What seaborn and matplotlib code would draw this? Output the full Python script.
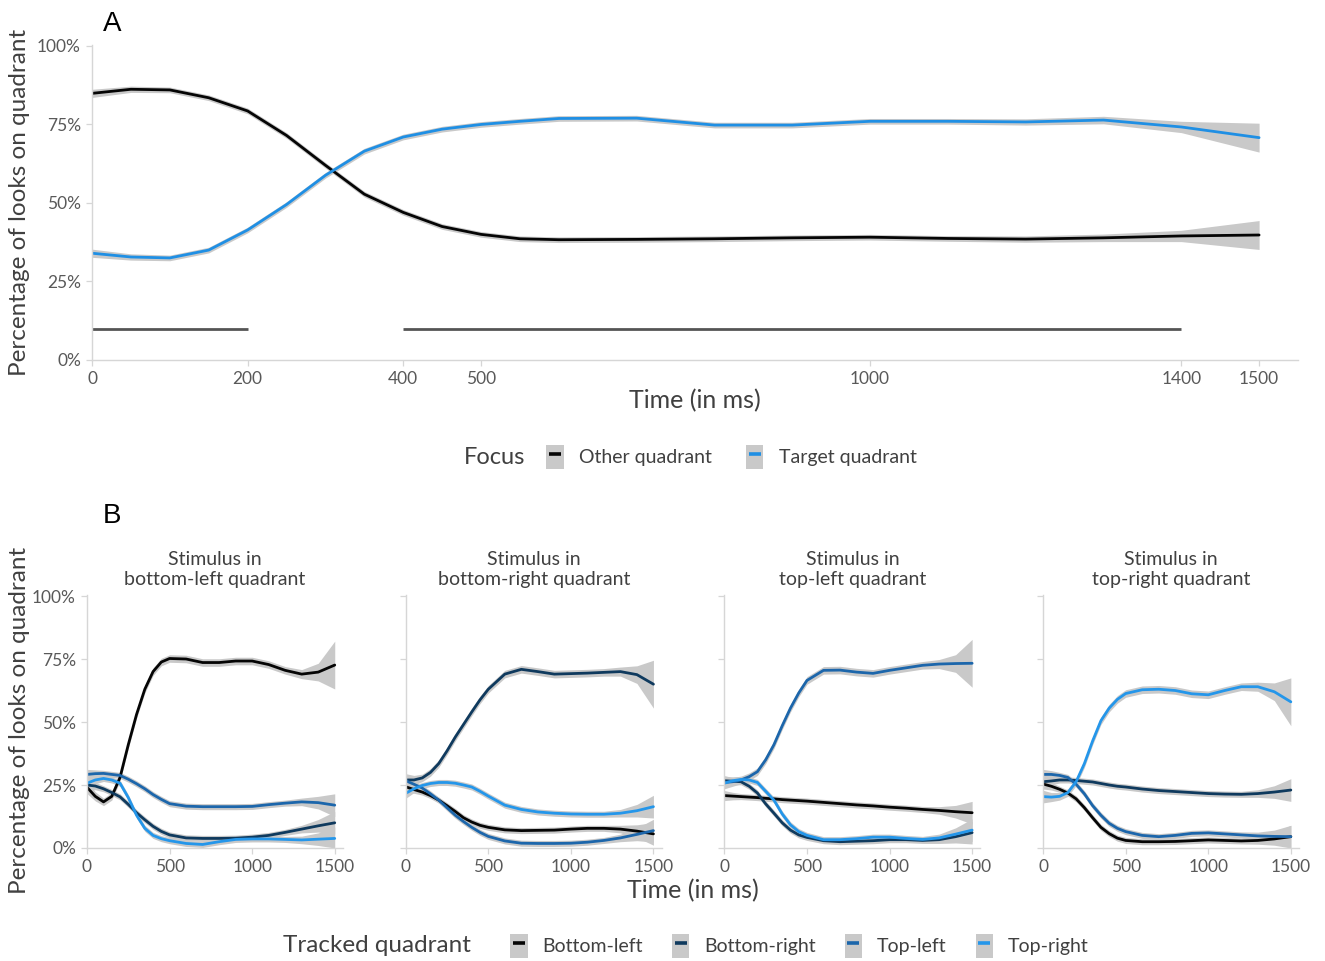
import matplotlib
matplotlib.use('Agg')
import matplotlib.pyplot as plt
import seaborn as sns
import pandas as pd
from matplotlib.patches import Patch
from matplotlib.lines import Line2D

# ---- panel A: overall looks on target vs other quadrant ----
A_TIME = [0, 50, 100, 150, 200, 250, 300, 350, 400, 450, 500, 550, 600,
          700, 800, 900, 1000, 1100, 1200, 1300, 1400, 1500]
A_OTHER = [84.9, 86.2, 86.0, 83.5, 79.3, 71.5, 62.0, 52.8, 47.0, 42.5, 40.0, 38.6, 38.3,
           38.4, 38.6, 38.9, 39.1, 38.7, 38.5, 38.9, 39.5, 39.8]
A_TARGET = [34.0, 32.8, 32.5, 35.0, 41.4, 49.5, 58.8, 66.5, 71.0, 73.5, 75.0, 76.0, 76.9,
            77.0, 74.8, 74.8, 76.0, 76.0, 75.8, 76.4, 74.2, 70.8]
A_CI = [1.3, 1.0, 0.9, 0.9, 0.9, 0.9, 0.9, 0.9, 0.9, 0.9, 0.9, 0.9, 0.9,
        0.9, 0.9, 0.9, 0.9, 0.9, 1.0, 1.2, 1.8, 4.6]
FOCUS = ['Other quadrant', 'Target quadrant']
FOCUS_COLORS = ['#050505', '#1f8fe4']
A_XTICKS = [0, 200, 400, 500, 1000, 1400, 1500]
SIG_START = [0, 400]
SIG_END = [200, 1400]
SIG_LEVEL = 10

# ---- panel B: looks per tracked quadrant, faceted by stimulus location ----
B_TIME = [0, 50, 100, 150, 200, 250, 300, 350, 400, 450, 500,
          600, 700, 800, 900, 1000, 1100, 1200, 1300, 1400, 1500]
QUADRANTS = ['Bottom-left', 'Bottom-right', 'Top-left', 'Top-right']
QUAD_COLORS = ['#050505', '#0f3a5e', '#1c66ab', '#2496ea']
FACET_TITLES = ['Stimulus in\nbottom-left quadrant', 'Stimulus in\nbottom-right quadrant',
                'Stimulus in\ntop-left quadrant', 'Stimulus in\ntop-right quadrant']

S1_BL = [24.1, 20.5, 18.3, 20.5, 28.0, 41.0, 53.0, 63.0, 70.0, 73.8, 75.2,
         75.0, 73.6, 73.6, 74.2, 74.2, 72.8, 70.5, 69.0, 69.8, 72.6]
S1_BR = [25.0, 24.6, 23.5, 22.0, 20.3, 17.3, 14.0, 11.2, 8.6, 6.6, 5.2,
         4.0, 3.8, 3.8, 3.9, 4.3, 5.0, 6.2, 7.5, 8.8, 10.0]
S1_TL = [29.2, 29.5, 29.6, 29.2, 28.8, 27.3, 25.5, 23.5, 21.2, 19.3, 17.6,
         16.6, 16.4, 16.4, 16.4, 16.5, 17.2, 17.8, 18.3, 18.0, 17.0]
S1_TR = [25.7, 27.0, 27.6, 27.0, 25.7, 20.0, 13.0, 7.8, 5.0, 3.7, 2.9,
         1.8, 1.4, 2.5, 3.4, 3.6, 3.6, 3.4, 3.2, 3.5, 3.8]

S2_BL = [24.3, 23.2, 22.2, 20.8, 19.0, 16.8, 14.5, 12.0, 10.3, 9.0, 8.2,
         7.2, 6.9, 7.0, 7.1, 7.5, 7.8, 7.8, 7.5, 6.7, 5.6]
S2_BR = [27.0, 27.0, 27.8, 30.0, 33.5, 38.5, 44.0, 49.0, 54.0, 58.8, 63.0,
         69.0, 70.9, 70.0, 69.0, 69.2, 69.4, 69.7, 70.0, 68.8, 65.0]
S2_TL = [26.7, 25.3, 23.8, 21.5, 19.0, 16.0, 13.0, 10.5, 8.2, 6.2, 4.6,
         2.8, 1.9, 1.8, 1.8, 1.9, 2.3, 3.0, 4.0, 5.4, 6.9]
S2_TR = [21.7, 23.5, 24.8, 25.6, 26.0, 26.0, 25.7, 25.0, 24.2, 22.5, 20.6,
         17.0, 15.3, 14.3, 13.8, 13.5, 13.4, 13.4, 13.8, 14.8, 16.4]

S3_BL = [20.8, 20.6, 20.4, 20.2, 20.0, 19.7, 19.5, 19.2, 19.0, 18.8, 18.6,
         18.1, 17.6, 17.1, 16.7, 16.2, 15.8, 15.3, 14.9, 14.4, 14.0]
S3_BR = [26.7, 26.5, 26.3, 24.5, 21.8, 17.5, 13.8, 10.0, 7.1, 5.2, 4.2,
         2.9, 2.5, 2.7, 2.9, 3.3, 3.3, 3.0, 3.3, 4.5, 6.1]
S3_TL = [26.0, 26.3, 27.0, 28.3, 30.3, 35.0, 41.0, 48.5, 55.5, 61.5, 66.5,
         70.5, 70.6, 69.8, 69.3, 70.5, 71.5, 72.5, 73.0, 73.2, 73.3]
S3_TR = [25.7, 26.7, 27.2, 27.0, 26.0, 22.5, 19.0, 13.5, 9.2, 6.5, 5.0,
         3.3, 3.3, 3.7, 4.3, 4.3, 3.8, 3.4, 4.0, 5.5, 7.1]

S4_BL = [25.4, 24.5, 23.3, 21.8, 19.5, 16.0, 12.0, 8.2, 5.7, 3.9, 3.0,
         2.5, 2.5, 2.6, 2.9, 3.2, 3.0, 2.8, 3.0, 3.6, 4.5]
S4_BR = [26.3, 26.6, 27.0, 27.0, 26.8, 26.5, 26.2, 25.6, 25.0, 24.5, 24.2,
         23.4, 22.8, 22.4, 22.0, 21.6, 21.4, 21.3, 21.6, 22.2, 23.0]
S4_TL = [29.2, 29.2, 28.8, 28.0, 25.3, 21.5, 16.8, 13.0, 9.8, 7.8, 6.5,
         5.0, 4.5, 5.0, 5.8, 6.0, 5.6, 5.2, 4.8, 4.6, 4.5]
S4_TR = [20.4, 20.2, 20.5, 22.0, 26.3, 33.5, 42.5, 50.5, 55.5, 59.0, 61.3,
         62.8, 63.0, 62.5, 61.2, 60.8, 62.5, 64.0, 64.0, 62.0, 58.0]

# half width of the gray ribbons
B_CI_MAIN = [2.5, 1.8, 1.5, 1.5, 1.5, 1.5, 1.5, 1.5, 1.5, 1.5, 1.5,
             1.5, 1.5, 1.5, 1.5, 1.5, 1.5, 1.5, 1.8, 3.5, 9.5]
B_CI_OTHER = [2.0, 1.5, 1.2, 1.2, 1.2, 1.2, 1.2, 1.2, 1.2, 1.2, 1.2,
              1.2, 1.2, 1.2, 1.2, 1.2, 1.2, 1.2, 1.5, 2.5, 4.5]
B_XTICKS = [0, 500, 1000, 1500]
Y_TICKS = [0, 25, 50, 75, 100]
Y_TICK_LABELS = ['0%', '25%', '50%', '75%', '100%']

FACETS = [
    [S1_BL, S1_BR, S1_TL, S1_TR],
    [S2_BL, S2_BR, S2_TL, S2_TR],
    [S3_BL, S3_BR, S3_TL, S3_TR],
    [S4_BL, S4_BR, S4_TL, S4_TR],
]

# ---- long tables ----
rows = []
for name, vals in zip(FOCUS, [A_OTHER, A_TARGET]):
    for t, v, ci in zip(A_TIME, vals, A_CI):
        rows.append({'time': t, 'pct': v, 'lo': v - ci, 'hi': v + ci, 'focus': name})
df_a = pd.DataFrame(rows)

rows = []
for i, series in enumerate(FACETS):
    for j, (q, vals) in enumerate(zip(QUADRANTS, series)):
        ci_vals = B_CI_MAIN if i == j else B_CI_OTHER
        for t, v, ci in zip(B_TIME, vals, ci_vals):
            rows.append({'facet': i, 'quadrant': q, 'time': t, 'pct': v,
                         'lo': max(v - ci, 0), 'hi': v + ci})
df_b = pd.DataFrame(rows)

sns.set_theme(style='white')
plt.rcParams['font.family'] = ['Lato', 'DejaVu Sans']

TICK_COLOR = '#595959'
TITLE_COLOR = '#404040'
SPINE_COLOR = '#d6d6d6'
BAND_COLOR = '#c9c9c9'
LINE_W = 2.0

W, H = 1325, 961


def box(l, t, r, b):
    return [l / W, 1 - b / H, (r - l) / W, (b - t) / H]


def style_axis(ax):
    sns.despine(ax=ax)
    for side in ['left', 'bottom']:
        ax.spines[side].set_color(SPINE_COLOR)
        ax.spines[side].set_linewidth(1.0)
    ax.tick_params(axis='both', length=4, width=0.9, color=SPINE_COLOR,
                   labelcolor=TICK_COLOR, labelsize=12.5, pad=4, left=True, bottom=True)
    ax.set_xlabel('')
    ax.set_ylabel('')


def key_handles(colors):
    return [(Patch(facecolor=BAND_COLOR, edgecolor='none'),
             Line2D([], [], color=c, marker='_', markersize=9, markeredgewidth=2.6,
                    linestyle='none')) for c in colors]


fig = plt.figure(figsize=(13.25, 9.61), dpi=100)

# ---- panel A ----
ax_a = fig.add_axes(box(92, 45, 1298, 360))
for name in FOCUS:
    sub = df_a[df_a.focus == name]
    ax_a.fill_between(sub.time, sub.lo, sub.hi, color=BAND_COLOR, lw=0)
sns.lineplot(data=df_a, x='time', y='pct', hue='focus', hue_order=FOCUS,
             palette=FOCUS_COLORS, linewidth=LINE_W, legend=False, ax=ax_a)
ax_a.hlines([SIG_LEVEL] * len(SIG_START), SIG_START, SIG_END, color='#555555', lw=2.0)
ax_a.set_xlim(0, 1550)
ax_a.set_ylim(0, 100.3)
ax_a.set_xticks(A_XTICKS)
ax_a.set_yticks(Y_TICKS)
ax_a.set_yticklabels(Y_TICK_LABELS)
style_axis(ax_a)

fig.text(112 / W, 1 - 24 / H, 'A', fontsize=20, family='Liberation Sans',
         ha='center', va='center', color='black')
fig.text(20 / W, 1 - 202 / H, 'Percentage of looks on quadrant', rotation=90,
         fontsize=17.5, color=TITLE_COLOR, ha='center', va='center')
fig.text(695 / W, 1 - 401 / H, 'Time (in ms)', fontsize=18, color=TITLE_COLOR,
         ha='center', va='center')

# legend A
fig.text(464 / W, 1 - 457 / H, 'Focus', fontsize=17, color=TITLE_COLOR, ha='left', va='center')
leg_a = fig.legend(key_handles(FOCUS_COLORS), FOCUS, loc='center left',
                   bbox_to_anchor=(546 / W, 1 - 457 / H),
                   ncol=2, frameon=False, fontsize=14, handlelength=0.9, handleheight=1.45,
                   handletextpad=0.8, columnspacing=1.75, borderaxespad=0, borderpad=0,
                   numpoints=1)
for txt in leg_a.get_texts():
    txt.set_color(TITLE_COLOR)

# ---- panel B ----
for i in range(4):
    left = 87 + i * 318.7
    ax = fig.add_axes(box(left, 595, left + 256, 848))
    sub = df_b[df_b.facet == i]
    for q in QUADRANTS:
        s = sub[sub.quadrant == q]
        ax.fill_between(s.time, s.lo, s.hi, color=BAND_COLOR, lw=0)
    sns.lineplot(data=sub, x='time', y='pct', hue='quadrant', hue_order=QUADRANTS,
                 palette=QUAD_COLORS, linewidth=LINE_W, legend=False, ax=ax)
    ax.set_xlim(0, 1550)
    ax.set_ylim(0, 100.4)
    ax.set_xticks(B_XTICKS)
    ax.set_yticks(Y_TICKS)
    if i == 0:
        ax.set_yticklabels(Y_TICK_LABELS)
    else:
        ax.set_yticklabels([])
    style_axis(ax)
    ax.set_title(FACET_TITLES[i], fontsize=14, color=TITLE_COLOR, pad=7, linespacing=1.2)

fig.text(112 / W, 1 - 516 / H, 'B', fontsize=20, family='Liberation Sans',
         ha='center', va='center', color='black')
fig.text(20 / W, 1 - 720 / H, 'Percentage of looks on quadrant', rotation=90,
         fontsize=17.5, color=TITLE_COLOR, ha='center', va='center')
fig.text(693 / W, 1 - 891 / H, 'Time (in ms)', fontsize=18, color=TITLE_COLOR,
         ha='center', va='center')

# legend B
fig.text(283 / W, 1 - 946 / H, 'Tracked quadrant', fontsize=17.5, color=TITLE_COLOR,
         ha='left', va='center')
leg_b = fig.legend(key_handles(QUAD_COLORS), QUADRANTS, loc='center left',
                   bbox_to_anchor=(510 / W, 1 - 946 / H),
                   ncol=4, frameon=False, fontsize=14, handlelength=0.9, handleheight=1.45,
                   handletextpad=0.75, columnspacing=1.5, borderaxespad=0, borderpad=0,
                   numpoints=1)
for txt in leg_b.get_texts():
    txt.set_color(TITLE_COLOR)

fig.savefig('out.png', dpi=100, facecolor='white')
